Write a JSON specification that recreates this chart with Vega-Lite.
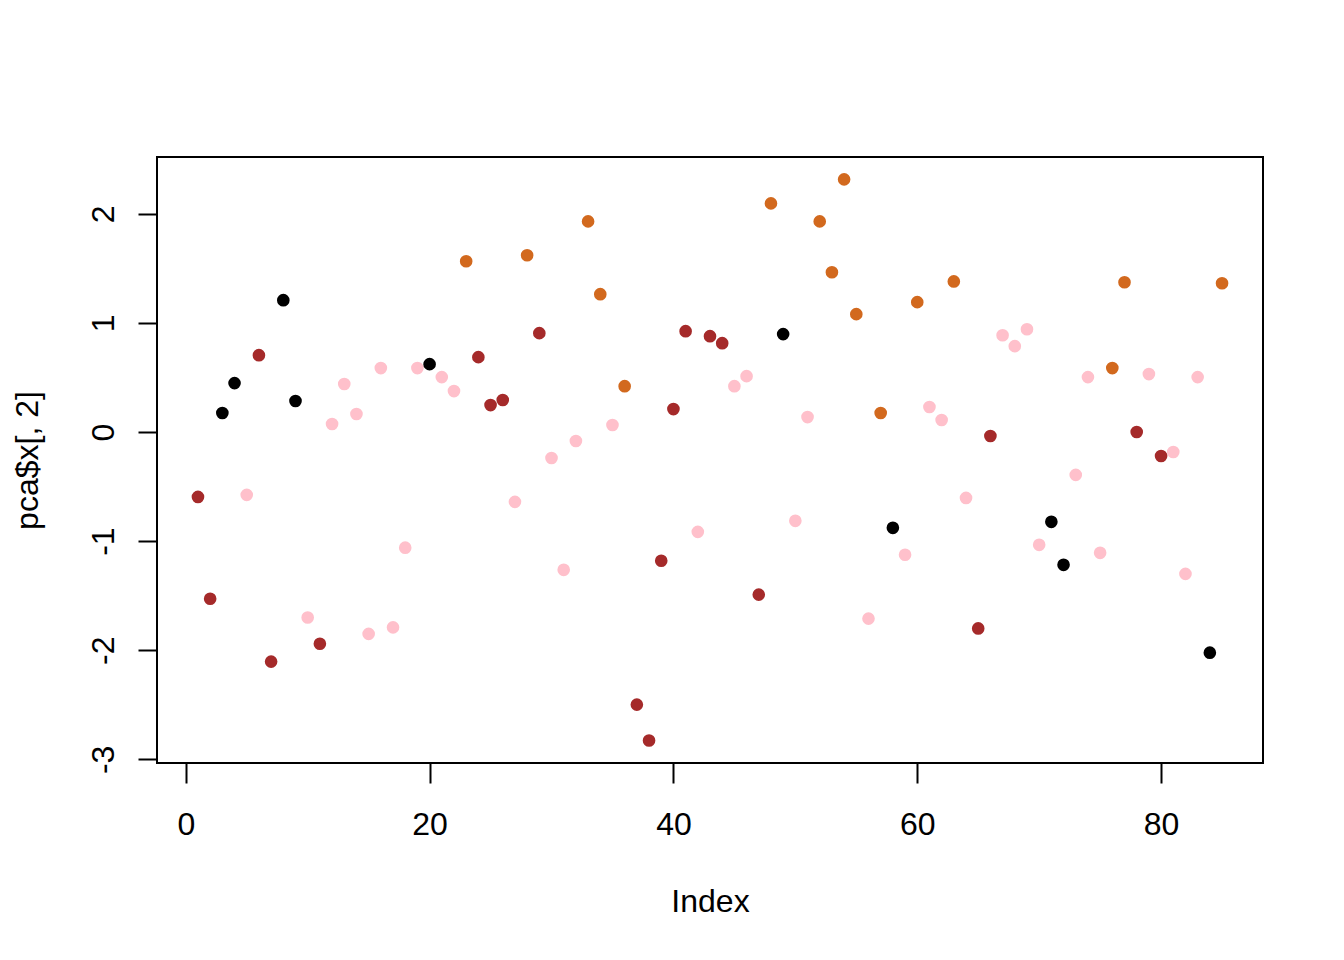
{
  "$schema": "https://vega.github.io/schema/vega-lite/v6.json",
  "autosize": {"type": "none"},
  "padding": {"left": 157, "top": 157, "right": 81, "bottom": 197},
  "width": 1106,
  "height": 606,
  "background": "white",
  "config": {
    "view": {"stroke": "black", "strokeWidth": 2},
    "font": "Liberation Sans"
  },
  "data": {
    "values": [
      {"i":1,"v":-0.595,"g":"A"},{"i":2,"v":-1.528,"g":"A"},{"i":3,"v":0.174,"g":"D"},{"i":4,"v":0.448,"g":"D"},
      {"i":5,"v":-0.576,"g":"B"},{"i":6,"v":0.704,"g":"A"},{"i":7,"v":-2.104,"g":"A"},{"i":8,"v":1.208,"g":"D"},
      {"i":9,"v":0.284,"g":"D"},{"i":10,"v":-1.70,"g":"B"},{"i":11,"v":-1.94,"g":"A"},{"i":12,"v":0.073,"g":"B"},
      {"i":13,"v":0.44,"g":"B"},{"i":14,"v":0.165,"g":"B"},{"i":15,"v":-1.85,"g":"B"},{"i":16,"v":0.586,"g":"B"},
      {"i":17,"v":-1.79,"g":"B"},{"i":18,"v":-1.06,"g":"B"},{"i":19,"v":0.586,"g":"B"},{"i":20,"v":0.622,"g":"D"},
      {"i":21,"v":0.503,"g":"B"},{"i":22,"v":0.375,"g":"B"},{"i":23,"v":1.565,"g":"C"},{"i":24,"v":0.686,"g":"A"},
      {"i":25,"v":0.247,"g":"A"},{"i":26,"v":0.293,"g":"A"},{"i":27,"v":-0.64,"g":"B"},{"i":28,"v":1.62,"g":"C"},
      {"i":29,"v":0.906,"g":"A"},{"i":30,"v":-0.238,"g":"B"},{"i":31,"v":-1.263,"g":"B"},{"i":32,"v":-0.082,"g":"B"},
      {"i":33,"v":1.93,"g":"C"},{"i":34,"v":1.263,"g":"C"},{"i":35,"v":0.064,"g":"B"},{"i":36,"v":0.42,"g":"C"},
      {"i":37,"v":-2.498,"g":"A"},{"i":38,"v":-2.827,"g":"A"},{"i":39,"v":-1.18,"g":"A"},{"i":40,"v":0.21,"g":"A"},
      {"i":41,"v":0.924,"g":"A"},{"i":42,"v":-0.915,"g":"B"},{"i":43,"v":0.878,"g":"A"},{"i":44,"v":0.814,"g":"A"},
      {"i":45,"v":0.42,"g":"B"},{"i":46,"v":0.512,"g":"B"},{"i":47,"v":-1.49,"g":"A"},{"i":48,"v":2.095,"g":"C"},
      {"i":49,"v":0.897,"g":"D"},{"i":50,"v":-0.814,"g":"B"},{"i":51,"v":0.137,"g":"B"},{"i":52,"v":1.93,"g":"C"},
      {"i":53,"v":1.464,"g":"C"},{"i":54,"v":2.315,"g":"C"},{"i":55,"v":1.08,"g":"C"},{"i":56,"v":-1.71,"g":"B"},
      {"i":57,"v":0.174,"g":"C"},{"i":58,"v":-0.878,"g":"D"},{"i":59,"v":-1.125,"g":"B"},{"i":60,"v":1.19,"g":"C"},
      {"i":61,"v":0.229,"g":"B"},{"i":62,"v":0.11,"g":"B"},{"i":63,"v":1.38,"g":"C"},{"i":64,"v":-0.604,"g":"B"},
      {"i":65,"v":-1.80,"g":"A"},{"i":66,"v":-0.037,"g":"A"},{"i":67,"v":0.887,"g":"B"},{"i":68,"v":0.787,"g":"B"},
      {"i":69,"v":0.942,"g":"B"},{"i":70,"v":-1.034,"g":"B"},{"i":71,"v":-0.823,"g":"D"},{"i":72,"v":-1.217,"g":"D"},
      {"i":73,"v":-0.393,"g":"B"},{"i":74,"v":0.503,"g":"B"},{"i":75,"v":-1.107,"g":"B"},{"i":76,"v":0.586,"g":"C"},
      {"i":77,"v":1.372,"g":"C"},{"i":78,"v":0.0,"g":"A"},{"i":79,"v":0.531,"g":"B"},{"i":80,"v":-0.22,"g":"A"},
      {"i":81,"v":-0.183,"g":"B"},{"i":82,"v":-1.30,"g":"B"},{"i":83,"v":0.503,"g":"B"},{"i":84,"v":-2.022,"g":"D"},
      {"i":85,"v":1.363,"g":"C"}
    ]
  },
  "mark": {"type": "circle", "size": 160, "opacity": 1},
  "encoding": {
    "x": {
      "field": "i", "type": "quantitative",
      "scale": {"domain": [-2.36, 88.36], "nice": false, "zero": false},
      "axis": {
        "values": [0, 20, 40, 60, 80], "grid": false, "domain": false,
        "tickSize": 20, "tickWidth": 2, "tickColor": "black",
        "labelFontSize": 32, "labelColor": "black", "labelBaseline": "alphabetic", "labelPadding": 51, "labelFont": "Liberation Sans",
        "title": "Index", "titleFontSize": 32, "titleFontWeight": "normal", "titleColor": "black", "titleFont": "Liberation Sans",
        "titleBaseline": "alphabetic", "titleY": 148, "titleX": 553, "titleAlign": "center"
      }
    },
    "y": {
      "field": "v", "type": "quantitative",
      "scale": {"domain": [-3.033, 2.52], "nice": false, "zero": false},
      "axis": {
        "values": [-3, -2, -1, 0, 1, 2], "grid": false, "domain": false,
        "labelExpr": "replace(datum.label, '\u2212', '-')",
        "tickSize": 19, "tickWidth": 2, "tickColor": "black",
        "labelFontSize": 32, "labelColor": "black", "labelAngle": -90, "labelAlign": "center", "labelBaseline": "alphabetic", "labelPadding": 25, "labelFont": "Liberation Sans",
        "title": "pca$x[, 2]", "titleFontSize": 32, "titleFontWeight": "normal", "titleColor": "black", "titleFont": "Liberation Sans",
        "titleAngle": -90, "titleBaseline": "alphabetic", "titleAlign": "center", "titleX": -120, "titleY": 303
      }
    },
    "color": {
      "field": "g", "type": "nominal",
      "scale": {"domain": ["A", "B", "C", "D"], "range": ["#A52A2A", "#FFC0CB", "#D2691E", "#000000"]},
      "legend": null
    }
  }
}
